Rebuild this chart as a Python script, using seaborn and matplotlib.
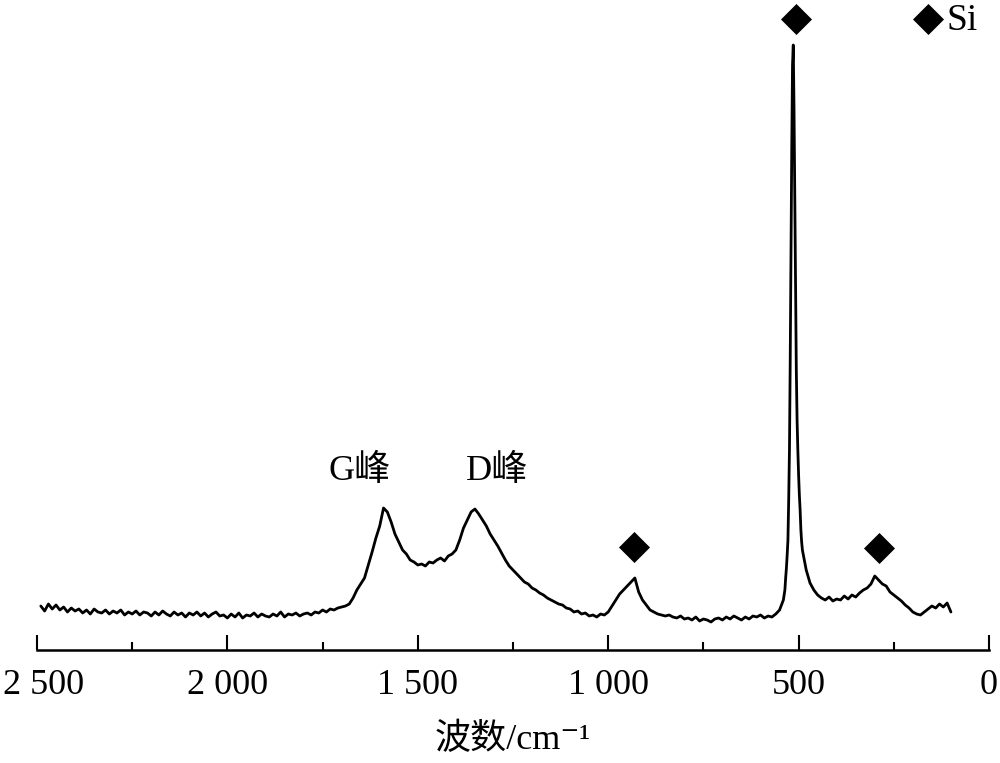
import numpy as np
import pandas as pd
import seaborn as sns
import matplotlib.pyplot as plt
import matplotlib.transforms as mtransforms
from matplotlib.ticker import MultipleLocator

# --------------------------
# Raman spectrum (intensity in arbitrary units)
# --------------------------
wavenumber = np.r_[2490:535:-10, 536:488:-2, 480:95:-10]

intensity_main = [
    44, 39, 46, 41, 45, 40, 43, 38, 42, 39,     # 2490-2400
    41, 37, 40, 36, 41, 38, 37, 40, 36, 39,     # 2390-2300
    37, 40, 35, 38, 36, 39, 35, 38, 37, 34,     # 2290-2200
    38, 35, 39, 36, 34, 38, 35, 37, 33, 37,     # 2190-2100
    35, 38, 34, 37, 33, 36, 38, 34, 35, 32,     # 2090-2000
    36, 33, 37, 32, 35, 34, 37, 33, 36, 34,     # 1990-1900
    33, 36, 34, 38, 33, 36, 35, 37, 34, 36,     # 1890-1800
    37, 35, 38, 37, 40, 38, 41, 40, 42, 43,     # 1790-1700
    44, 46, 52, 60, 66, 72, 85, 98, 112, 124,   # 1690-1600
    142, 138, 128, 116, 108, 100, 96, 90, 88, 85,  # 1590-1500
    86, 84, 88, 87, 90, 92, 89, 94, 96, 100,    # 1490-1400
    110, 122, 130, 138, 141, 136, 130, 124, 116, 110,  # 1390-1300
    104, 97, 90, 84, 80, 76, 72, 68, 66, 62,    # 1290-1200
    60, 57, 55, 52, 50, 48, 46, 45, 42, 41,     # 1190-1100
    38, 39, 36, 37, 34, 35, 33, 36, 35, 38,     # 1090-1000
    44, 50, 56, 60, 64, 68, 72, 58, 50, 45,     # 990-900
    40, 38, 36, 35, 34, 35, 33, 32, 34, 31,     # 890-800
    32, 30, 33, 29, 31, 30, 28, 31, 32, 30,     # 790-700
    33, 31, 34, 32, 30, 33, 31, 34, 33, 35,     # 690-600
    32, 34, 33, 36, 40, 50,                     # 590-540
]
intensity_si = [
    60, 72, 82, 95, 110, 150, 200, 290, 400, 500, 585, 605,
    540, 450, 360, 280, 230, 200, 175, 155, 140, 120, 108, 100,
]  # 536-490
intensity_tail = [
    80, 67, 60, 55, 52, 50, 53, 49, 51, 50,
    54, 51, 55, 53, 57, 60, 62, 66, 74, 70,
    66, 64, 58, 55, 52, 49, 45, 42, 38, 36,
    35, 38, 41, 44, 42, 46, 43, 47, 38,
]  # 480-100
intensity = intensity_main + intensity_si + intensity_tail

# Si marks and peak labels
si_x = [506, 932, 289]
si_y = [631, 103, 102]
legend_x = [160]
legend_y = [631]
peak_names = ["G峰", "D峰"]
peak_x = [1654, 1292]
peak_y = [179, 179]

xticks = [2500, 2000, 1500, 1000, 500, 0]
xtick_labels = ["2 500", "2 000", "1 500", "1 000", "500", "0"]

df = pd.DataFrame({"w": wavenumber, "I": intensity})

# --------------------------
# Plot
# --------------------------
sns.set_style("white")
plt.rcParams["font.family"] = ["Liberation Serif", "DejaVu Serif", "Noto Sans CJK SC"]
plt.rcParams["text.color"] = "black"
plt.rcParams["axes.labelcolor"] = "black"
plt.rcParams["xtick.color"] = "black"

fig = plt.figure(figsize=(10, 7.63), dpi=100)
ax = fig.add_axes([0.037, 1 - 650 / 763, 0.952, 650 / 763])

sns.lineplot(data=df, x="w", y="I", color="black", linewidth=2.0,
             estimator=None, sort=False, ax=ax)
sns.scatterplot(x=si_x + legend_x, y=si_y + legend_y, marker="D", s=250,
                color="black", linewidth=0, ax=ax, clip_on=False)
ax.text(112, 629, "Si", fontsize=27, ha="left", va="center")
for name, px, py in zip(peak_names, peak_x, peak_y):
    ax.text(px, py, name, fontsize=26, ha="center", va="center")

ax.set_xlim(2500, 0)
ax.set_ylim(0, 650)
ax.set_xticks(xticks)
ax.set_xticklabels(xtick_labels, fontsize=26)
ax.xaxis.set_minor_locator(MultipleLocator(250))
ax.set_yticks([])
ax.tick_params(axis="x", which="major", direction="in", length=11, width=1.5,
               pad=14, bottom=True)
ax.tick_params(axis="x", which="minor", direction="in", length=6, width=1.5,
               bottom=True)
for side in ["top", "left", "right"]:
    ax.spines[side].set_visible(False)
ax.spines["bottom"].set_linewidth(1.8)
ax.spines["bottom"].set_color("black")
ax.set_xlabel("波数/cm⁻¹", fontsize=26, labelpad=15)
ax.set_ylabel("")

# keep the leftmost tick label inside the figure
first = ax.get_xticklabels()[0]
first.set_transform(first.get_transform() +
                    mtransforms.ScaledTranslation(5 / 72, 0, fig.dpi_scale_trans))

plt.savefig("out.png", dpi=100)
